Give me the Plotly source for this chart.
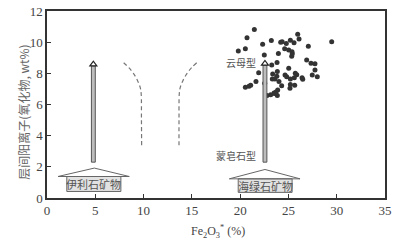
import plotly.graph_objects as go

# scatter data (Fe2O3*, interlayer cation oxides)
fe2o3 = [21.47, 20.71, 19.81, 20.54, 22.33, 23.23, 24.2, 24.35, 24.78, 25.2, 25.58, 25.96, 26.1,
         27.06, 29.48, 24.61, 25.03, 23.96, 25.37, 25.34, 22.5, 23.82, 23.27, 26.89, 27.34, 27.75,
         27.75, 27.47, 27.99, 21.92, 23.85, 23.37, 23.8, 24.65, 24.82, 25.03, 25.71, 25.86, 25.2,
         25.61, 26.41, 26.48, 23.33, 23.6, 24.02, 24.3, 25.2, 25.65, 25.16, 21.64, 21.09, 20.92,
         20.54, 22.54, 23.89, 23.71, 23.51, 23.16, 22.78, 23.85, 23.55, 25.4]
cations = [10.81, 10.28, 9.44, 9.57, 9.87, 10.11, 10.0, 10.03, 9.92, 10.13, 9.96, 10.51, 10.21,
           9.74, 10.02, 9.57, 9.49, 9.28, 9.38, 9.1, 9.17, 8.7, 8.53, 8.85, 8.64, 8.61,
           8.21, 7.89, 7.78, 8.04, 8.12, 7.95, 7.82, 7.89, 7.78, 8.32, 8.0, 7.91, 7.63,
           7.72, 7.72, 7.62, 7.63, 7.63, 7.48, 7.2, 7.29, 7.23, 7.04, 7.48, 7.23, 7.17,
           7.1, 7.36, 6.93, 6.8, 6.74, 6.63, 6.57, 6.57, 6.7, 9.25]

x_ticks = [0, 5, 10, 15, 20, 25, 30, 35]
y_ticks = [0, 2, 4, 6, 8, 10, 12]

# dashed boundary curves
left_curve_x = [7.94, 8.5, 9.0, 9.4, 9.65, 9.75, 9.78, 9.8]
left_curve_y = [8.68, 8.35, 7.95, 7.5, 7.1, 6.7, 5.0, 3.3]
right_curve_x = [15.5, 14.95, 14.45, 14.05, 13.8, 13.7, 13.67, 13.67]
right_curve_y = [8.68, 8.35, 7.95, 7.5, 7.1, 6.7, 5.0, 3.3]

# arrows: x, bottom, top of head
arrows = [(4.8, 2.3, 8.78), (22.57, 2.3, 8.83)]
# houses: apex x, apex y, eave y, eave left, eave right, box left, box right, box bottom, label
houses = [(4.9, 1.92, 1.38, 1.14, 8.52, 2.05, 7.65, 0.42, "伊利石矿物"),
          (22.57, 1.83, 1.23, 18.88, 26.2, 19.8, 25.38, 0.36, "海绿石矿物")]

fig = go.Figure()

for cx, cy in [(left_curve_x, left_curve_y), (right_curve_x, right_curve_y)]:
    fig.add_trace(go.Scatter(x=cx, y=cy, mode="lines",
                             line=dict(color="#777", width=1.2, dash="4px,3px", shape="spline"),
                             hoverinfo="skip", showlegend=False))

fig.add_trace(go.Scatter(x=fe2o3, y=cations, mode="markers",
                         marker=dict(color="#333", size=5), showlegend=False))

shapes = []
for ax, y0, y1 in arrows:
    hw_bar = 0.2
    hw_head = 0.36
    head_h = 0.3
    shapes.append(dict(type="rect", xref="x", yref="y", x0=ax - hw_bar, x1=ax + hw_bar, y0=y0, y1=y1 - head_h,
                       fillcolor="#bdbdbd", line=dict(color="#555", width=1)))
    shapes.append(dict(type="path", xref="x", yref="y",
                       path=f"M {ax-hw_head},{y1-head_h} L {ax},{y1} L {ax+hw_head},{y1-head_h} Z",
                       fillcolor="white", line=dict(color="#222", width=1.2)))

annotations = []
for hx, hy, ey, el, er, bl, br, bb, lab in houses:
    shapes.append(dict(type="rect", xref="x", yref="y", x0=bl, x1=br, y0=bb, y1=ey,
                       fillcolor="#e2e2e2", line=dict(color="#666", width=1)))
    shapes.append(dict(type="path", xref="x", yref="y",
                       path=f"M {el},{ey} L {hx},{hy} L {er},{ey} Z",
                       fillcolor="rgba(255,255,255,0)", line=dict(color="#666", width=1)))
    annotations.append(dict(x=(bl + br) / 2, y=(bb + ey) / 2, xref="x", yref="y", text=lab, showarrow=False,
                            font=dict(family="Noto Sans CJK SC", size=11, color="#555")))

annotations.append(dict(x=21.85, y=8.68, xref="x", yref="y", text="云母型", showarrow=False, xanchor="right",
                        font=dict(family="Noto Sans CJK SC", size=10, color="#555")))
annotations.append(dict(x=21.85, y=2.73, xref="x", yref="y", text="蒙皂石型", showarrow=False, xanchor="right",
                        font=dict(family="Noto Sans CJK SC", size=10, color="#555")))
annotations.append(dict(x=-0.1, y=0.46, xref="paper", yref="paper", text="层间阳离子(氧化物, wt%)", showarrow=False,
                        textangle=-90, font=dict(family="Noto Sans CJK SC", size=12, color="#666")))
annotations.append(dict(x=0.505, y=-0.125, xref="paper", yref="paper",
                        text="Fe<sub>2</sub>O<sub>3</sub><sup>*</sup> (%)", showarrow=False, yanchor="top",
                        font=dict(family="Liberation Serif", size=12, color="#444")))

fig.update_layout(
    width=399, height=243,
    margin=dict(l=47, r=14, t=11, b=45, autoexpand=False),
    paper_bgcolor="white", plot_bgcolor="white",
    shapes=shapes, annotations=annotations,
    xaxis=dict(range=[0, 35], tickvals=x_ticks, ticks="inside", ticklen=4, tickcolor="#333",
               showline=True, linecolor="#333", linewidth=1.5, mirror=True, showgrid=False, zeroline=False,
               automargin=False,
               tickfont=dict(family="Liberation Serif", size=13, color="#444")),
    yaxis=dict(range=[0, 12], tickvals=y_ticks, ticks="inside", ticklen=4, tickcolor="#333",
               showline=True, linecolor="#333", linewidth=1.5, mirror=True, showgrid=False, zeroline=False,
               automargin=False,
               tickfont=dict(family="Liberation Serif", size=13, color="#444")),
)

fig.write_html("out.html", config={"displayModeBar": False},
               post_script="document.body.style.margin='0';document.body.style.overflow='hidden';")
